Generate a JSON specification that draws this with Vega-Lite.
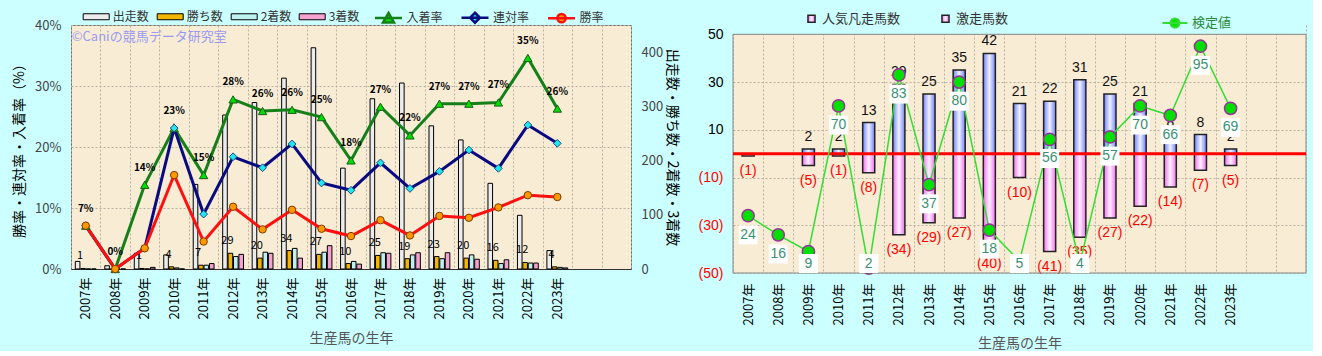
{
  "$schema": "https://vega.github.io/schema/vega-lite/v6.json",
  "background": "#ccffff",
  "padding": {"left": 12, "top": 6, "right": 5, "bottom": 0},
  "spacing": 18,
  "config": {
    "font": "Noto Sans CJK JP",
    "axis": {"gridDash": [2, 2], "gridColor": "#b9b1a2", "gridWidth": 1}
  },
  "datasets": {
    "left": [
      {"year": "2007年", "出走数": 14, "勝ち数": 1, "2着数": 0, "3着数": 0, "勝率": 0.071, "連対率": 0.071, "入着率": 0.071},
      {"year": "2008年", "出走数": 6, "勝ち数": 0, "2着数": 0, "3着数": 0, "勝率": 0, "連対率": 0, "入着率": 0},
      {"year": "2009年", "出走数": 29, "勝ち数": 1, "2着数": 0, "3着数": 3, "勝率": 0.034, "連対率": 0.034, "入着率": 0.138},
      {"year": "2010年", "出走数": 26, "勝ち数": 4, "2着数": 2, "3着数": 0, "勝率": 0.154, "連対率": 0.231, "入着率": 0.231},
      {"year": "2011年", "出走数": 156, "勝ち数": 7, "2着数": 7, "3着数": 10, "勝率": 0.045, "連対率": 0.09, "入着率": 0.154},
      {"year": "2012年", "出走数": 284, "勝ち数": 29, "2着数": 23, "3着数": 27, "勝率": 0.102, "連対率": 0.184, "入着率": 0.278},
      {"year": "2013年", "出走数": 307, "勝ち数": 20, "2着数": 31, "3着数": 29, "勝率": 0.065, "連対率": 0.166, "入着率": 0.259},
      {"year": "2014年", "出走数": 352, "勝ち数": 34, "2着数": 38, "3着数": 20, "勝率": 0.097, "連対率": 0.205, "入着率": 0.261},
      {"year": "2015年", "出走数": 408, "勝ち数": 27, "2着数": 31, "3着数": 43, "勝率": 0.066, "連対率": 0.141, "入着率": 0.249},
      {"year": "2016年", "出走数": 186, "勝ち数": 10, "2着数": 14, "3着数": 9, "勝率": 0.054, "連対率": 0.129, "入着率": 0.178},
      {"year": "2017年", "出走数": 314, "勝ち数": 25, "2着数": 30, "3着数": 29, "勝率": 0.08, "連対率": 0.174, "入着率": 0.266},
      {"year": "2018年", "出走数": 343, "勝ち数": 19, "2着数": 26, "3着数": 30, "勝率": 0.055, "連対率": 0.132, "入着率": 0.219},
      {"year": "2019年", "出走数": 264, "勝ち数": 23, "2着数": 19, "3着数": 30, "勝率": 0.087, "連対率": 0.16, "入着率": 0.271},
      {"year": "2020年", "出走数": 238, "勝ち数": 20, "2着数": 26, "3着数": 18, "勝率": 0.084, "連対率": 0.195, "入着率": 0.271},
      {"year": "2021年", "出走数": 158, "勝ち数": 16, "2着数": 10, "3着数": 17, "勝率": 0.101, "連対率": 0.165, "入着率": 0.273},
      {"year": "2022年", "出走数": 99, "勝ち数": 12, "2着数": 11, "3着数": 11, "勝率": 0.121, "連対率": 0.236, "入着率": 0.346},
      {"year": "2023年", "出走数": 34, "勝ち数": 4, "2着数": 3, "3着数": 2, "勝率": 0.118, "連対率": 0.206, "入着率": 0.263}
    ],
    "right": [
      {"year": "2007年", "激走馬数": 0, "人気凡走馬数": -1, "検定値": 24},
      {"year": "2008年", "激走馬数": 0, "人気凡走馬数": 0, "検定値": 16},
      {"year": "2009年", "激走馬数": 2, "人気凡走馬数": -5, "検定値": 9},
      {"year": "2010年", "激走馬数": 2, "人気凡走馬数": -1, "検定値": 70},
      {"year": "2011年", "激走馬数": 13, "人気凡走馬数": -8, "検定値": 2},
      {"year": "2012年", "激走馬数": 29, "人気凡走馬数": -34, "検定値": 83},
      {"year": "2013年", "激走馬数": 25, "人気凡走馬数": -29, "検定値": 37},
      {"year": "2014年", "激走馬数": 35, "人気凡走馬数": -27, "検定値": 80},
      {"year": "2015年", "激走馬数": 42, "人気凡走馬数": -40, "検定値": 18},
      {"year": "2016年", "激走馬数": 21, "人気凡走馬数": -10, "検定値": 5},
      {"year": "2017年", "激走馬数": 22, "人気凡走馬数": -41, "検定値": 56},
      {"year": "2018年", "激走馬数": 31, "人気凡走馬数": -35, "検定値": 4},
      {"year": "2019年", "激走馬数": 25, "人気凡走馬数": -27, "検定値": 57},
      {"year": "2020年", "激走馬数": 21, "人気凡走馬数": -22, "検定値": 70},
      {"year": "2021年", "激走馬数": 8, "人気凡走馬数": -14, "検定値": 66},
      {"year": "2022年", "激走馬数": 8, "人気凡走馬数": -7, "検定値": 95},
      {"year": "2023年", "激走馬数": 2, "人気凡走馬数": -5, "検定値": 69}
    ]
  },
  "hconcat": [
    {
      "width": 560,
      "height": 244,
      "data": {"name": "left"},
      "view": {"fill": "#f8ecd4", "stroke": "#707070"},
      "resolve": {"scale": {"y": "independent"}},
      "encoding": {
        "x": {
          "field": "year",
          "type": "nominal",
          "scale": {"domain": ["2007年", "2008年", "2009年", "2010年", "2011年", "2012年", "2013年", "2014年", "2015年", "2016年", "2017年", "2018年", "2019年", "2020年", "2021年", "2022年", "2023年", " ", "  "], "paddingInner": 0, "paddingOuter": 0},
          "axis": {"title": "生産馬の生年", "titleColor": "#555555", "titleFontSize": 14, "titleFontWeight": "normal", "titlePadding": 13, "labelAngle": -90, "labelFontSize": 13, "labelColor": "#000000", "labelPadding": 8, "ticks": false, "tickBand": "extent", "grid": true, "domainColor": "#333333"}
        }
      },
      "layer": [
        {
          "transform": [{"fold": ["出走数", "勝ち数", "2着数", "3着数"], "as": ["bseries", "count"]}],
          "layer": [
            {
              "mark": {"type": "bar", "stroke": "#000000", "strokeWidth": 1},
              "encoding": {
                "xOffset": {"field": "bseries", "type": "nominal", "scale": {"domain": ["出走数", "勝ち数", "2着数", "3着数"], "paddingInner": 0.15, "paddingOuter": 0.8}},
                "y": {"field": "count", "type": "quantitative", "scale": {"domain": [0, 450], "nice": false},
                  "axis": {"orient": "right", "values": [0, 50, 100, 150, 200, 250, 300, 350, 400, 450], "labelOverlap": false, "title": "出走数・勝ち数・2着数・3着数", "titleAngle": 90, "titleFontSize": 14, "titleFontWeight": "normal", "titleColor": "#000000", "titlePadding": 2, "labelFontSize": 13, "labelColor": "#444444", "labelPadding": 10, "ticks": false, "domain": false, "grid": false}},
                "color": {"field": "bseries", "type": "nominal",
                  "scale": {"domain": ["出走数", "勝ち数", "2着数", "3着数"], "range": ["#ececec", "#f2b600", "#bff0f0", "#f4a2cf"]},
                  "legend": {"title": null, "orient": "none", "legendX": 14.7, "legendY": -19, "direction": "horizontal", "symbolType": "M-1.3,-0.3H1.3V0.3H-1.3Z", "symbolSize": 400, "symbolStrokeColor": "#000000", "symbolStrokeWidth": 1, "labelFontSize": 12, "labelColor": "#333333", "labelOffset": 6, "columnPadding": 5, "padding": 0}}
              }
            },
            {
              "transform": [{"filter": "datum.bseries == '勝ち数' && datum.count > 0"}],
              "mark": {"type": "text", "dx": -3, "dy": -12, "fontSize": 11, "color": "#000000"},
              "encoding": {
                "xOffset": {"field": "bseries", "type": "nominal"},
                "y": {"field": "count", "type": "quantitative"},
                "text": {"field": "count", "type": "quantitative"}
              }
            }
          ]
        },
        {
          "transform": [{"fold": ["入着率", "連対率", "勝率"], "as": ["rseries", "rate"]}],
          "layer": [
            {
              "mark": {"type": "line", "strokeWidth": 3},
              "encoding": {
                "y": {"field": "rate", "type": "quantitative", "scale": {"domain": [0, 0.4], "nice": false},
                  "axis": {"orient": "left", "values": [0, 0.05, 0.1, 0.15, 0.2, 0.25, 0.3, 0.35, 0.4], "labelOverlap": false, "format": ".0%", "title": "勝率・連対率・入着率（%）", "titleFontSize": 14, "titleFontWeight": "normal", "titleColor": "#000000", "titlePadding": 8, "labelFontSize": 13, "labelColor": "#444444", "labelPadding": 10, "ticks": false, "domain": false, "grid": true}},
                "stroke": {"field": "rseries", "type": "nominal",
                  "scale": {"domain": ["入着率", "連対率", "勝率"], "range": ["#15801a", "#0a0a80", "#ff1010"]},
                  "legend": {"title": null, "orient": "none", "legendX": 306, "legendY": -19, "direction": "horizontal", "symbolSize": 400, "symbolStrokeWidth": 2.5, "labelFontSize": 12, "labelColor": "#333333", "labelOffset": 6.5, "columnPadding": 13.5, "padding": 0,
                    "encode": {"symbols": {"update": {
                      "shape": {"signal": "datum.value == '入着率' ? 'M-1.35,0H1.35M0,-0.5L0.55,0.45L-0.55,0.45Z' : datum.value == '連対率' ? 'M-1.35,0H1.35M0,-0.5L0.5,0L0,0.5L-0.5,0Z' : 'M-1.35,0H1.35M0.42,0A0.42,0.42,0,1,1,-0.42,0A0.42,0.42,0,1,1,0.42,0Z'"},
                      "fill": {"signal": "datum.value == '入着率' ? '#00dd00' : datum.value == '連対率' ? '#22e6ee' : '#ff9900'"},
                      "fillOpacity": {"value": 1},
                      "strokeWidth": {"value": 2.5}
                    }}}}}
              }
            },
            {
              "transform": [{"filter": "datum.rseries == '入着率'"}],
              "mark": {"type": "point", "shape": "triangle-up", "filled": true, "size": 70, "fill": "#00dd00", "stroke": "#1a5e1a", "strokeWidth": 1, "opacity": 1},
              "encoding": {"y": {"field": "rate", "type": "quantitative"}}
            },
            {
              "transform": [{"filter": "datum.rseries == '連対率'"}],
              "mark": {"type": "point", "shape": "diamond", "filled": true, "size": 60, "fill": "#22e6ee", "stroke": "#1a4a80", "strokeWidth": 1, "opacity": 1},
              "encoding": {"y": {"field": "rate", "type": "quantitative"}}
            },
            {
              "transform": [{"filter": "datum.rseries == '勝率'"}],
              "mark": {"type": "point", "shape": "circle", "filled": true, "size": 55, "fill": "#ff9900", "stroke": "#7a3a00", "strokeWidth": 1, "opacity": 1},
              "encoding": {"y": {"field": "rate", "type": "quantitative"}}
            },
            {
              "transform": [{"filter": "datum.rseries == '入着率'"}],
              "mark": {"type": "text", "dy": -17, "fontSize": 10, "fontWeight": "bold", "color": "#000000"},
              "encoding": {
                "y": {"field": "rate", "type": "quantitative"},
                "text": {"field": "rate", "type": "quantitative", "format": ".0%"}
              }
            }
          ]
        },
        {
          "data": {"values": [{"label": "©Caniの競馬データ研究室"}]},
          "mark": {"type": "text", "align": "left", "dx": -14, "fontSize": 13, "color": "#9a9af2"},
          "encoding": {
            "x": {"datum": "2007年"},
            "y": {"datum": 0.38, "type": "quantitative", "scale": {"domain": [0, 0.4], "nice": false}, "axis": null},
            "text": {"field": "label", "type": "nominal"}
          }
        }
      ]
    },
    {
      "width": 573,
      "height": 248,
      "data": {"name": "right"},
      "view": {"fill": "#f8ecd4", "stroke": null},
      "resolve": {"scale": {"y": "independent", "stroke": "independent"}, "legend": {"stroke": "independent"}},
      "layer": [
        {
          "encoding": {
            "x": {
              "field": "year",
              "type": "nominal",
              "scale": {"domain": ["2007年", "2008年", "2009年", "2010年", "2011年", "2012年", "2013年", "2014年", "2015年", "2016年", "2017年", "2018年", "2019年", "2020年", "2021年", "2022年", "2023年", " ", "  "], "paddingInner": 0, "paddingOuter": 0},
              "axis": {"title": "生産馬の生年", "titleColor": "#555555", "titleFontSize": 14, "titleFontWeight": "normal", "titlePadding": 12, "labelAngle": -90, "labelFontSize": 13, "labelColor": "#000000", "labelPadding": 10, "ticks": false, "tickBand": "extent", "grid": true, "domain": false}
            }
          },
          "layer": [
            {
              "transform": [{"filter": "datum['人気凡走馬数'] != 0"}],
              "mark": {"type": "bar", "width": {"band": 0.4}, "strokeWidth": 1.5,
                "fill": {"gradient": "linear", "x1": 0, "y1": 0, "x2": 1, "y2": 0, "stops": [{"offset": 0, "color": "#f070f0"}, {"offset": 0.5, "color": "#fff0ff"}, {"offset": 1, "color": "#f070f0"}]}},
              "encoding": {
                "y": {"field": "人気凡走馬数", "type": "quantitative", "title": null, "scale": {"domain": [-50, 53.9], "nice": false},
                  "axis": {"title": null, "values": [-50, -40, -30, -20, -10, 0, 10, 20, 30, 40, 50], "labelOverlap": false, "format": "(d", "labelColor": {"condition": {"test": "datum.value < 0", "value": "#ff0000"}, "value": "#000000"}, "labelFontSize": 14, "labelFont": "Liberation Sans", "labelPadding": 10, "ticks": false, "domain": false, "grid": true}},
                "stroke": {"datum": "人気凡走馬数",
                  "scale": {"domain": ["人気凡走馬数", "激走馬数"], "range": ["#222222", "#222222"]},
                  "legend": {"title": null, "orient": "none", "legendX": 72, "legendY": -13, "direction": "horizontal", "symbolType": "square", "symbolSize": 50, "symbolStrokeWidth": 1.5, "labelFontSize": 13, "labelColor": "#333333", "labelOffset": 4, "columnPadding": 37, "padding": 0,
                    "encode": {"symbols": {"update": {
                      "fill": {"signal": "datum.value == '人気凡走馬数' ? '#f490f4' : '#9aa6ff'"},
                      "fillOpacity": {"value": 1}
                    }}}}}
              }
            },
            {
              "transform": [{"filter": "datum['激走馬数'] != 0"}],
              "mark": {"type": "bar", "width": {"band": 0.4}, "strokeWidth": 1.5,
                "fill": {"gradient": "linear", "x1": 0, "y1": 0, "x2": 1, "y2": 0, "stops": [{"offset": 0, "color": "#7080ff"}, {"offset": 0.5, "color": "#f0f2ff"}, {"offset": 1, "color": "#7080ff"}]}},
              "encoding": {
                "y": {"field": "激走馬数", "type": "quantitative", "title": null},
                "stroke": {"datum": "激走馬数"}
              }
            },
            {
              "transform": [{"filter": "datum['激走馬数'] > 0"}],
              "mark": {"type": "text", "dy": -12, "fontSize": 14, "font": "Liberation Sans", "color": "#111111"},
              "encoding": {
                "y": {"field": "激走馬数", "type": "quantitative", "title": null},
                "text": {"field": "激走馬数", "type": "quantitative"}
              }
            },
            {
              "transform": [{"filter": "datum['人気凡走馬数'] < 0"}],
              "mark": {"type": "text", "dy": 15, "fontSize": 14, "font": "Liberation Sans", "color": "#ff0000"},
              "encoding": {
                "y": {"field": "人気凡走馬数", "type": "quantitative", "title": null},
                "text": {"field": "人気凡走馬数", "type": "quantitative", "format": "(d"}
              }
            }
          ]
        },
        {
          "data": {"values": [{"k": 1}]},
          "layer": [
            {
              "mark": {"type": "rect", "color": "#ccffff"},
              "encoding": {
                "y": {"datum": 50, "type": "quantitative", "scale": {"domain": [-50, 53.9], "nice": false}, "axis": null},
                "y2": {"datum": 53.9}
              }
            },
            {
              "mark": {"type": "rect", "filled": false, "color": "#888888", "strokeWidth": 1},
              "encoding": {
                "y": {"datum": -50, "type": "quantitative"},
                "y2": {"datum": 50}
              }
            },
            {
              "mark": {"type": "rule", "color": "#ff0000", "strokeWidth": 3},
              "encoding": {"y": {"datum": 0, "type": "quantitative"}}
            }
          ]
        },
        {
          "encoding": {
            "x": {
              "field": "year",
              "type": "nominal",
              "scale": {"domain": ["2007年", "2008年", "2009年", "2010年", "2011年", "2012年", "2013年", "2014年", "2015年", "2016年", "2017年", "2018年", "2019年", "2020年", "2021年", "2022年", "2023年", " ", "  "], "paddingInner": 0, "paddingOuter": 0},
              "axis": {"title": "生産馬の生年", "titleColor": "#555555", "titleFontSize": 14, "titleFontWeight": "normal", "titlePadding": 12, "labelAngle": -90, "labelFontSize": 13, "labelColor": "#000000", "labelPadding": 10, "ticks": false, "tickBand": "extent", "grid": true, "domain": false}
            }
          },
          "layer": [
            {
              "mark": {"type": "line", "strokeWidth": 1.5},
              "encoding": {
                "y": {"field": "検定値", "type": "quantitative", "scale": {"domain": [0, 103.9], "nice": false}, "axis": null},
                "stroke": {"datum": "検定値", "scale": {"range": ["#33dd33"]},
                  "legend": {"title": null, "orient": "none", "legendX": 431, "legendY": -13, "padding": 0, "symbolSize": 400, "labelFontSize": 13, "labelColor": "#2a8a3a", "labelOffset": 6,
                    "encode": {"symbols": {"update": {
                      "shape": {"value": "M-1.25,0H1.25M0.45,0A0.45,0.45,0,1,1,-0.45,0A0.45,0.45,0,1,1,0.45,0Z"},
                      "fill": {"value": "#00e000"},
                      "fillOpacity": {"value": 1},
                      "strokeWidth": {"value": 2}
                    }}}}}
              }
            },
            {
              "mark": {"type": "point", "filled": true, "size": 150, "fill": "#00e000", "stroke": "#993399", "strokeWidth": 1.5, "opacity": 1},
              "encoding": {"y": {"field": "検定値", "type": "quantitative"}}
            }
          ]
        },
        {
          "encoding": {
            "x": {
              "field": "year",
              "type": "nominal",
              "scale": {"domain": ["2007年", "2008年", "2009年", "2010年", "2011年", "2012年", "2013年", "2014年", "2015年", "2016年", "2017年", "2018年", "2019年", "2020年", "2021年", "2022年", "2023年", " ", "  "], "paddingInner": 0, "paddingOuter": 0},
              "axis": {"title": "生産馬の生年", "titleColor": "#555555", "titleFontSize": 14, "titleFontWeight": "normal", "titlePadding": 12, "labelAngle": -90, "labelFontSize": 13, "labelColor": "#000000", "labelPadding": 10, "ticks": false, "tickBand": "extent", "grid": true, "domain": false}
            }
          },
          "layer": [
            {
              "mark": {"type": "point", "shape": "square", "filled": true, "size": 361, "color": "#ffffff", "opacity": 1, "yOffset": -9.5},
              "encoding": {"y": {"field": "検定値", "type": "quantitative", "scale": {"domain": [12, 115.9], "nice": false, "clamp": true}, "axis": null}}
            },
            {
              "mark": {"type": "text", "yOffset": -9.5, "fontSize": 14, "font": "Liberation Sans", "color": "#3d8f72"},
              "encoding": {
                "y": {"field": "検定値", "type": "quantitative"},
                "text": {"field": "検定値", "type": "quantitative"}
              }
            }
          ]
        }
      ]
    }
  ]
}
